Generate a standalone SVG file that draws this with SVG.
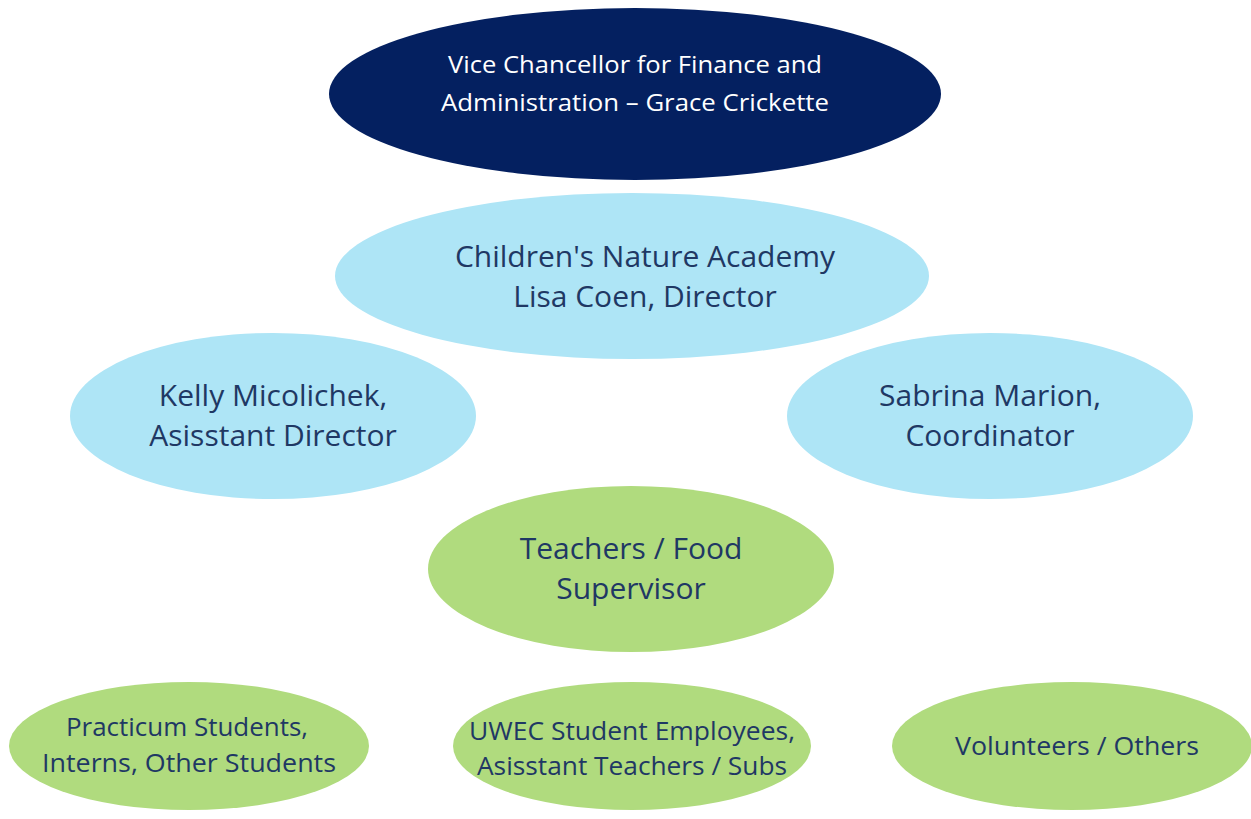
<svg xmlns="http://www.w3.org/2000/svg" width="1251" height="819" viewBox="0 0 1251 819">
<style>
.t{font-family:"Open Sans","DejaVu Sans",sans-serif;text-anchor:middle}
.w{fill:#ffffff;font-size:24px}
.d{fill:#1f3864;font-size:30px}
.s{fill:#1f3864;font-size:26px}
.navy{fill:#042060}
.blue{fill:#aee5f6}
.green{fill:#b0db7e}
</style>
<rect width="1251" height="819" fill="#ffffff"/>
<g id="connectors"></g>
<g id="vc">
<ellipse class="navy" cx="635" cy="94" rx="306" ry="86"/>
<text class="t w" x="635" y="73" textLength="374" lengthAdjust="spacingAndGlyphs">Vice Chancellor for Finance and</text>
<text class="t w" x="635" y="111" textLength="388" lengthAdjust="spacingAndGlyphs">Administration – Grace Crickette</text>
</g>
<g id="cna">
<ellipse class="blue" cx="632" cy="276" rx="297" ry="83"/>
<text class="t d" x="645" y="267">Children's Nature Academy</text>
<text class="t d" x="645" y="307">Lisa Coen, Director</text>
</g>
<g id="kelly">
<ellipse class="blue" cx="273" cy="416" rx="203" ry="83"/>
<text class="t d" x="273" y="406">Kelly Micolichek,</text>
<text class="t d" x="273" y="446">Asisstant Director</text>
</g>
<g id="sabrina">
<ellipse class="blue" cx="990" cy="416" rx="203" ry="83"/>
<text class="t d" x="990" y="406">Sabrina Marion,</text>
<text class="t d" x="990" y="446">Coordinator</text>
</g>
<g id="teachers">
<ellipse class="green" cx="631" cy="569" rx="203" ry="83"/>
<text class="t d" x="631" y="559">Teachers / Food</text>
<text class="t d" x="631" y="599">Supervisor</text>
</g>
<g id="practicum">
<ellipse class="green" cx="189" cy="746" rx="180" ry="64"/>
<text class="t s" x="187" y="736" textLength="242" lengthAdjust="spacingAndGlyphs">Practicum Students,</text>
<text class="t s" x="189" y="772" textLength="294" lengthAdjust="spacingAndGlyphs">Interns, Other Students</text>
</g>
<g id="uwec">
<ellipse class="green" cx="632" cy="746" rx="179" ry="64"/>
<text class="t s" x="632" y="740" textLength="326" lengthAdjust="spacingAndGlyphs">UWEC Student Employees,</text>
<text class="t s" x="632" y="775" textLength="310" lengthAdjust="spacingAndGlyphs">Asisstant Teachers / Subs</text>
</g>
<g id="volunteers">
<ellipse class="green" cx="1072" cy="746" rx="180" ry="64"/>
<text class="t s" x="1077" y="755" textLength="244" lengthAdjust="spacingAndGlyphs">Volunteers / Others</text>
</g>
</svg>
